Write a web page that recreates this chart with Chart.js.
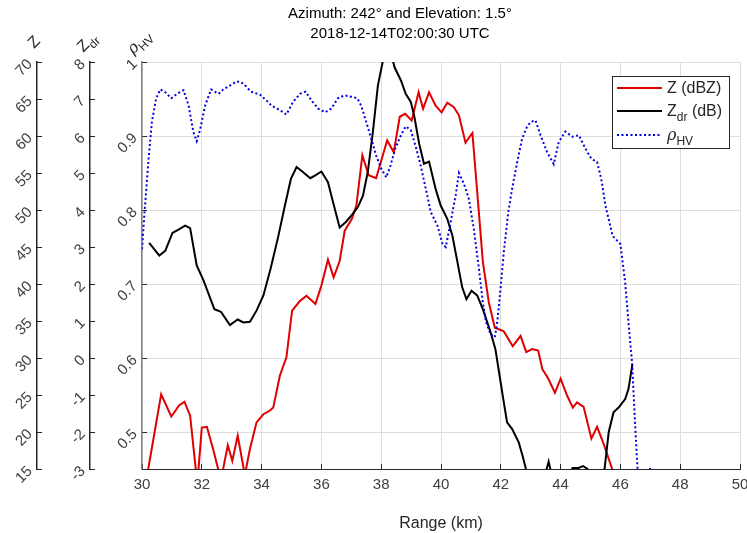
<!DOCTYPE html>
<html>
<head>
<meta charset="utf-8">
<script src="https://cdn.jsdelivr.net/npm/chart.js@4.4.1/dist/chart.umd.min.js"></script>
<style>
  html, body { margin: 0; padding: 0; background: #fff; }
  #wrap { width: 747px; height: 533px; }
</style>
</head>
<body>
<div id="wrap"><canvas id="radarProfile" width="747" height="533"></canvas></div>
<script>
// Range profile of one radar ray: reflectivity, differential reflectivity, correlation coefficient
const titleLines = ["Azimuth: 242\u00b0 and Elevation: 1.5\u00b0", "2018-12-14T02:00:30 UTC"];

const rangeTicks = [30, 32, 34, 36, 38, 40, 42, 44, 46, 48, 50];
const zTicks = [15, 20, 25, 30, 35, 40, 45, 50, 55, 60, 65, 70];
const zdrTicks = [-3, -2, -1, 0, 1, 2, 3, 4, 5, 6, 7, 8];
const rhoTicks = [0.5, 0.6, 0.7, 0.8, 0.9, 1];

// Z (dBZ)
const zRange = [30.0, 30.2, 30.64, 30.98, 31.24, 31.42, 31.61, 31.85, 32.0, 32.17, 32.39, 32.64,
  32.87, 33.02, 33.2, 33.44, 33.61, 33.83, 34.06, 34.28, 34.39, 34.61, 34.83, 35.02, 35.28, 35.5,
  35.8, 36.0, 36.22, 36.41, 36.61, 36.78, 37.02, 37.17, 37.37, 37.58, 37.83, 38.2, 38.42, 38.62,
  38.8, 39.02, 39.25, 39.4, 39.6, 39.82, 40.02, 40.21, 40.43, 40.6, 40.82, 41.05, 41.2, 41.4,
  41.6, 41.8, 42.1, 42.4, 42.66, 42.85, 43.05, 43.25, 43.39, 43.59, 43.81, 44.0, 44.22, 44.41,
  44.55, 44.77, 45.03, 45.22, 45.44, 45.74, 46.0];
const zValues = [11, 14.8, 25.1, 22.1, 23.6, 24.1, 22.2, 13, 20.6, 20.7, 17.5, 13.5,
  18.2, 16.1, 19.5, 14.2, 17.7, 21.3, 22.4, 22.9, 23.3, 27.6, 30.1, 36.4, 37.7, 38.4,
  37.3, 39.8, 43.3, 40.9, 43.1, 47.2, 48.8, 50.6, 57.4, 54.7, 54.3, 59.4, 57.8, 62.6,
  63, 62.1, 65.9, 63.7, 65.9, 64.1, 63.2, 64.5, 63.9, 62.8, 59.1, 60.4, 53, 43,
  37.5, 34.1, 33.6, 31.6, 33.0, 30.8, 31.2, 31.0, 28.5, 27.2, 25.3, 27.2, 24.9, 23.3,
  24.0, 23.4, 19.1, 20.7, 18.4, 14.8, 12.5];

// Zdr (dB)
const zdrRange = [30.24, 30.58, 30.78, 31.02, 31.22, 31.44, 31.61, 31.83, 32.06, 32.42, 32.64, 32.94,
  33.2, 33.39, 33.61, 33.83, 34.06, 34.3, 34.55, 34.78, 34.98, 35.17, 35.39, 35.63, 35.78, 36.0,
  36.22, 36.39, 36.61, 36.81, 37.02, 37.22, 37.39, 37.55, 37.72, 37.89, 38.2, 38.45, 38.66, 38.82,
  38.99, 39.1, 39.27, 39.43, 39.6, 39.82, 39.99, 40.21, 40.38, 40.55, 40.71, 40.85, 41.02, 41.21,
  41.4, 41.66, 41.82, 41.96, 42.1, 42.21, 42.38, 42.6, 42.73, 42.84, 43.0, 43.4, 43.6, 43.8,
  44.2, 44.4, 44.6, 44.75, 44.9, 45.1, 45.35, 45.47, 45.61, 45.77, 45.94, 46.16, 46.27, 46.4];
const zdrValues = [3.11, 2.77, 2.9, 3.38, 3.47, 3.58, 3.51, 2.5, 2.09, 1.32, 1.25, 0.89,
  1.04, 0.96, 0.98, 1.28, 1.69, 2.41, 3.26, 4.12, 4.84, 5.16, 5.02, 4.86, 4.93, 5.04,
  4.75, 4.21, 3.53, 3.67, 3.87, 4.08, 4.39, 5.02, 6.1, 7.37, 8.6, 7.85, 7.5, 7.14,
  6.92, 6.56, 5.79, 5.25, 5.31, 4.57, 4.12, 3.76, 3.31, 2.59, 1.91, 1.59, 1.82, 1.69,
  1.32, 0.69, 0.24, -0.48, -1.2, -1.74, -1.92, -2.28, -2.65, -3.0, -3.6, -3.4, -2.8, -3.5,
  -3.3, -2.97, -2.97, -2.92, -3.0, -3.6, -3.5, -3.0, -2.0, -1.47, -1.34, -1.11, -0.84, -0.18];

// rhoHV
const rhoRange = [30.0, 30.09, 30.22, 30.33, 30.47, 30.61, 30.78, 30.98, 31.17, 31.39, 31.56, 31.72,
  31.83, 31.94, 32.11, 32.31, 32.56, 32.72, 32.94, 33.17, 33.39, 33.64, 33.94, 34.22, 34.33, 34.61,
  34.83, 35.05, 35.28, 35.47, 35.67, 35.89, 36.13, 36.33, 36.55, 36.78, 37.0, 37.2, 37.33, 37.5,
  37.67, 37.83, 38.0, 38.17, 38.31, 38.47, 38.66, 38.82, 38.99, 39.16, 39.32, 39.49, 39.66, 39.88,
  40.05, 40.16, 40.32, 40.49, 40.6, 40.77, 40.93, 41.1, 41.27, 41.4, 41.51, 41.66, 41.8, 41.88,
  41.99, 42.1, 42.25, 42.38, 42.55, 42.71, 42.87, 43.0, 43.16, 43.33, 43.55, 43.77, 43.94, 44.16,
  44.39, 44.61, 44.83, 45.03, 45.22, 45.36, 45.5, 45.74, 46.0, 46.16, 46.27, 46.39, 46.5, 46.6,
  46.8, 47.0, 47.15];
const rhoValues = [0.747, 0.80, 0.869, 0.919, 0.950, 0.963, 0.959, 0.951, 0.957, 0.962, 0.941, 0.905,
  0.893, 0.908, 0.941, 0.963, 0.957, 0.963, 0.968, 0.974, 0.971, 0.960, 0.956, 0.946, 0.941, 0.935,
  0.929, 0.946, 0.957, 0.960, 0.948, 0.937, 0.932, 0.937, 0.951, 0.955, 0.953, 0.951, 0.941, 0.919,
  0.896, 0.874, 0.856, 0.844, 0.860, 0.883, 0.901, 0.913, 0.908, 0.885, 0.86, 0.829, 0.797, 0.779,
  0.754, 0.750, 0.783, 0.820, 0.850, 0.835, 0.815, 0.774, 0.720, 0.675, 0.648, 0.632, 0.628, 0.648,
  0.693, 0.743, 0.797, 0.829, 0.865, 0.896, 0.912, 0.919, 0.921, 0.901, 0.878, 0.862, 0.892, 0.906,
  0.899, 0.901, 0.883, 0.869, 0.865, 0.842, 0.806, 0.765, 0.754, 0.702, 0.648, 0.594, 0.504, 0.43,
  0.40, 0.452, 0.40];

const RED = "#e00000";
const BLACK = "#000000";
const BLUE = "#0000e0";
const AXIS = "#262626";
const LABEL = "#404040";
const GRID = "#dedede";
const FONT = '"Liberation Sans", Arial, Helvetica, sans-serif';

Chart.defaults.font.family = FONT;

const pairs = (xs, ys) => xs.map((x, i) => ({ x: x, y: ys[i] }));
const useTicks = (values) => (scale) => { scale.ticks = values.map((v) => ({ value: v })); };

// text with an optional subscript part, drawn left to right from (x, y) baseline
function drawRich(ctx, parts, x, y, size) {
  let cx = x;
  parts.forEach((p) => {
    const fs = p.sub ? Math.round(size * 0.72) : size;
    ctx.font = `${p.italic ? "italic " : ""}${fs}px ${p.family || FONT}`;
    ctx.fillText(p.t, cx, p.sub ? y + size * 0.3 : y);
    cx += ctx.measureText(p.t).width;
  });
  return cx - x;
}

function richWidth(ctx, parts, size) {
  let w = 0;
  parts.forEach((p) => {
    const fs = p.sub ? Math.round(size * 0.72) : size;
    ctx.font = `${p.italic ? "italic " : ""}${fs}px ${p.family || FONT}`;
    w += ctx.measureText(p.t).width;
  });
  return w;
}

const zName = [{ t: "Z" }];
const zdrName = [{ t: "Z" }, { t: "dr", sub: true }];
const rhoName = [{ t: "\u03c1", family: '"DejaVu Serif", serif', italic: true }, { t: "HV", sub: true }];

const overlay = {
  id: "profileText",
  afterDraw(chart) {
    const ctx = chart.ctx;
    const area = chart.chartArea;
    ctx.save();
    ctx.textAlign = "left";
    ctx.textBaseline = "alphabetic";

    // two-line title
    ctx.fillStyle = "#000";
    ctx.font = `15px ${FONT}`;
    ctx.textAlign = "center";
    ctx.fillText(titleLines[0], 400, 18);
    ctx.fillText(titleLines[1], 400, 38);
    ctx.textAlign = "left";

    // slanted axis names above each y axis
    ctx.fillStyle = AXIS;
    [["yZ", zName], ["yZdr", zdrName], ["yRho", rhoName]].forEach(([id, parts]) => {
      const s = chart.scales[id];
      const w = richWidth(ctx, parts, 16);
      ctx.save();
      ctx.translate(s.right - 3, area.top - 20);
      ctx.rotate(-Math.PI / 4);
      drawRich(ctx, parts, -w / 2, 5, 16);
      ctx.restore();
    });

    // legend
    const lx = 612.5, ly = 76.5, lw = 117, lh = 72;
    ctx.fillStyle = "#fff";
    ctx.fillRect(lx, ly, lw, lh);
    ctx.strokeStyle = AXIS;
    ctx.lineWidth = 1;
    ctx.strokeRect(lx, ly, lw, lh);
    const rows = [
      { color: RED, dash: [], parts: [{ t: "Z (dBZ)" }], y: 88 },
      { color: BLACK, dash: [], parts: [{ t: "Z" }, { t: "dr", sub: true }, { t: " (dB)" }], y: 111 },
      { color: BLUE, dash: [2, 2.5], parts: rhoName, y: 135 }
    ];
    rows.forEach((r) => {
      ctx.beginPath();
      ctx.setLineDash(r.dash);
      ctx.strokeStyle = r.color;
      ctx.lineWidth = 2;
      ctx.moveTo(617, r.y);
      ctx.lineTo(662, r.y);
      ctx.stroke();
      ctx.setLineDash([]);
      ctx.fillStyle = AXIS;
      drawRich(ctx, r.parts, 667, r.y + 5, 16);
    });
    ctx.restore();
  }
};

function sideAxis(lo, hi, values, width, weight, fmt, borderColor) {
  return {
    type: "linear",
    position: "left",
    weight: weight,
    min: lo,
    max: hi,
    afterBuildTicks: useTicks(values),
    afterFit: (s) => { s.width = width; },
    grid: { drawOnChartArea: false, drawTicks: true, tickLength: -5, tickColor: AXIS },
    border: { display: true, color: borderColor, width: 1.5 },
    ticks: {
      minRotation: 45, maxRotation: 50, autoSkip: false, padding: 12,
      color: LABEL, font: { size: 15 }, callback: fmt
    }
  };
}

const canvas = document.getElementById("radarProfile");
new Chart(canvas.getContext("2d"), {
  type: "line",
  data: {
    datasets: [
      { label: "Z (dBZ)", data: pairs(zRange, zValues), yAxisID: "yZ", borderColor: RED, borderWidth: 2, order: 2 },
      { label: "Zdr (dB)", data: pairs(zdrRange, zdrValues), yAxisID: "yZdr", borderColor: BLACK, borderWidth: 2, order: 1 },
      { label: "rhoHV", data: pairs(rhoRange, rhoValues), yAxisID: "yRho", borderColor: BLUE, borderWidth: 2, borderDash: [2, 2.5], order: 0 }
    ]
  },
  options: {
    responsive: false,
    animation: false,
    layout: { padding: { top: 62, right: 7, left: 0, bottom: 0 } },
    elements: { point: { radius: 0 }, line: { tension: 0, fill: false } },
    plugins: { legend: { display: false }, tooltip: { enabled: false } },
    scales: {
      x: {
        type: "linear",
        min: 30,
        max: 50,
        afterBuildTicks: useTicks(rangeTicks),
        afterFit: (s) => { s.height = 64; s.paddingLeft = 0; s.paddingRight = 0; },
        grid: { color: GRID, drawTicks: true, tickLength: -5, tickColor: AXIS },
        border: { color: AXIS, width: 1 },
        ticks: { color: LABEL, font: { size: 15 }, padding: 12, maxRotation: 0, autoSkip: false },
        title: { display: true, text: "Range (km)", color: AXIS, font: { size: 16 }, padding: { top: 0, bottom: 0 } }
      },
      yZ: sideAxis(15, 70, zTicks, 37, 3, (v) => String(v), AXIS),
      yZdr: sideAxis(-3, 8, zdrTicks, 53, 2, (v) => String(v), AXIS),
      yRho: Object.assign(sideAxis(0.45, 1, rhoTicks, 52, 1, (v) => (v === 1 ? "1" : v.toFixed(1)), "#808080"), {
        grid: { drawOnChartArea: true, color: GRID, drawTicks: true, tickLength: -5, tickColor: AXIS }
      })
    }
  },
  plugins: [overlay]
});
</script>
</body>
</html>
